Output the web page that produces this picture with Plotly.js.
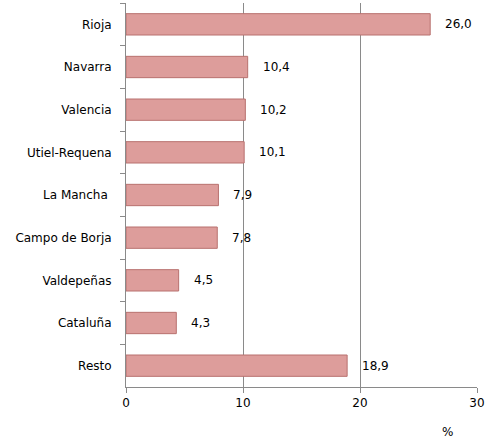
<!DOCTYPE html>
<html><head><meta charset="utf-8">
<script src="https://cdn.plot.ly/plotly-3.0.1.min.js"></script>
<style>html,body{margin:0;padding:0;background:#fff;}</style>
</head><body>
<div id="chart" style="width:488px;height:441px;"></div>
<script>
var categories = ["Rioja","Navarra","Valencia","Utiel-Requena","La Mancha\u00a0","Campo de Borja","Valdepeñas","Cataluña","Resto"];
var values = [26.0,10.4,10.2,10.1,7.9,7.8,4.5,4.3,18.9];
var xTicks = [0,10,20,30];

var font = {family:"DejaVu Sans, sans-serif", size:12, color:"#000"};

var trace = {
  type:"bar", orientation:"h",
  x: values, y: categories,
  marker:{color:"#dd9d9b", line:{color:"#b8716f", width:1}},
  hoverinfo:"none"
};

var annotations = values.map(function(v,i){
  return {x:v, y:categories[i], xref:"x", yref:"y", text:v.toFixed(1).replace(".",","),
    showarrow:false, xanchor:"left", yanchor:"middle", xshift:13, font:font};
});
annotations.push({x:1, y:0, xref:"paper", yref:"paper", text:"%", showarrow:false,
  xanchor:"center", yanchor:"middle", xshift:-30, yshift:-45, font:font});

var layout = {
  width:488, height:441,
  margin:{l:126, r:11, t:3, b:54},
  paper_bgcolor:"#fff", plot_bgcolor:"#fff",
  bargap:0.5,
  showlegend:false,
  font:font,
  xaxis:{range:[0,30], tickvals:xTicks, ticktext:xTicks.map(String),
    showgrid:true, gridcolor:"#8a8a8a", gridwidth:1, zeroline:false,
    showline:true, linecolor:"#8a8a8a", linewidth:1,
    ticks:"outside", ticklen:5, tickcolor:"#8a8a8a", tickfont:font, fixedrange:true},
  yaxis:{autorange:"reversed", type:"category",
    showline:true, linecolor:"#8a8a8a", linewidth:1,
    ticks:"outside", ticklen:5, tickcolor:"#8a8a8a", tickson:"boundaries",
    showgrid:false, zeroline:false, tickfont:font, ticklabelstandoff:11, fixedrange:true},
  annotations:annotations
};
Plotly.newPlot("chart",[trace],layout,{displayModeBar:false,staticPlot:true});
</script>
</body></html>
